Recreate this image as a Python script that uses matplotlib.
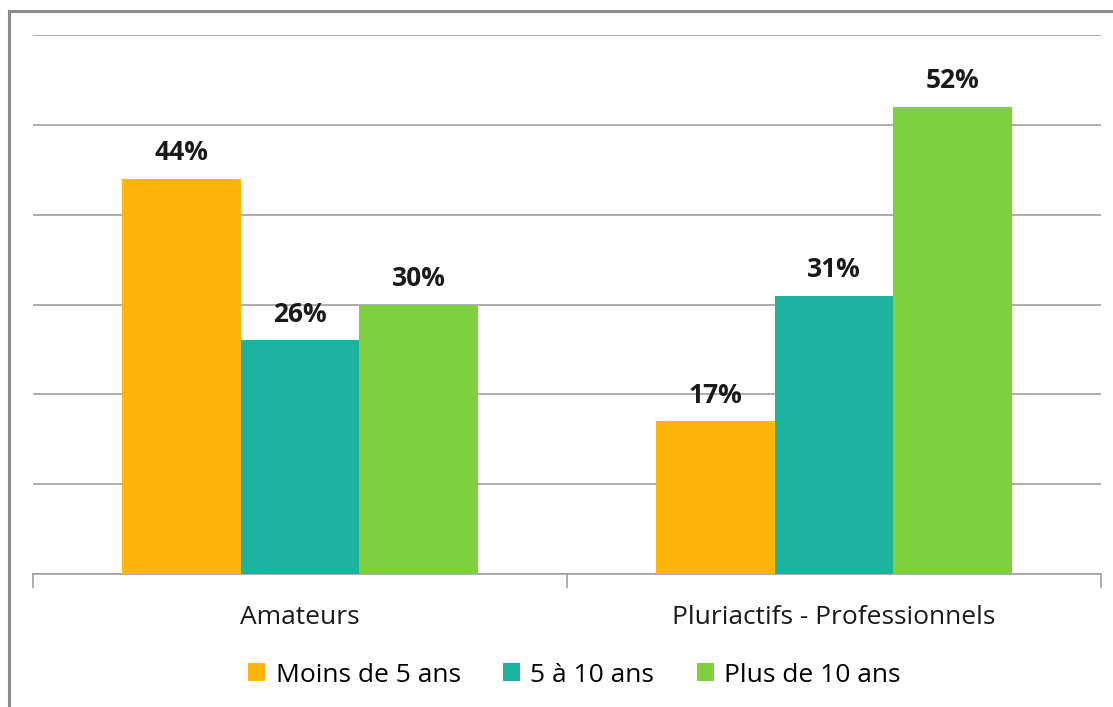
import matplotlib.pyplot as plt
from matplotlib.patches import Rectangle
import numpy as np

plt.rcParams['font.family'] = ['Open Sans', 'DejaVu Sans']

categories = ["Amateurs", "Pluriactifs - Professionnels"]
series = ["Moins de 5 ans", "5 à 10 ans", "Plus de 10 ans"]
values = {
    "Moins de 5 ans": [44, 17],
    "5 à 10 ans": [26, 31],
    "Plus de 10 ans": [30, 52],
}
colors = ["#FFB60B", "#1CB39F", "#7ED13C"]

fig = plt.figure(figsize=(11.13, 7.07), dpi=100)
ax = fig.add_axes([33 / 1113, 1 - 574 / 707, (1101 - 33) / 1113, (574 - 35) / 707])

# outer frame (cropped on the right and bottom)
fig.patches.append(Rectangle((9 / 1113, -0.1), 1.2, 1 - 11 / 707 + 0.1,
                             transform=fig.transFigure, fill=False,
                             edgecolor="#8c8c8c", linewidth=2.2))

x = np.arange(len(categories))
width = 0.222
for i, (name, col) in enumerate(zip(series, colors)):
    pos = x + (i - 1) * width
    bars = ax.bar(pos, values[name], width=width, color=col, label=name, zorder=3)
    for b, v in zip(bars, values[name]):
        ax.text(b.get_x() + b.get_width() / 2, v + 2.9, f"{v}%", ha="center",
                va="center", fontsize=19, fontweight="bold", color="#1a1a1a")

ax.set_xlim(-0.5, 1.5)
ax.set_ylim(0, 60)
ax.set_yticks(np.arange(0, 61, 10))
ax.yaxis.grid(True, color="#a0a0a0", linewidth=1.2, zorder=0)
ax.tick_params(axis="y", left=False, labelleft=False)
for s in ["left", "right", "top"]:
    ax.spines[s].set_visible(False)
ax.spines["bottom"].set_color("#a0a0a0")
ax.spines["bottom"].set_linewidth(1.2)

ax.set_xticks([-0.5, 0.5, 1.5], minor=False)
ax.set_xticklabels([])
ax.tick_params(axis="x", length=10, color="#a0a0a0", width=1.2)
ax.set_xticks(x, minor=True)
ax.set_xticklabels(categories, minor=True, fontsize=19, color="#1a1a1a")
ax.tick_params(axis="x", which="minor", length=0, pad=22)

fig.legend(loc="center", bbox_to_anchor=(0.516, 1 - 675 / 707), ncol=3,
           frameon=False, fontsize=19, handlelength=0.65, handleheight=0.65,
           handletextpad=0.4, columnspacing=1.6)

fig.savefig("out.png", dpi=100)
